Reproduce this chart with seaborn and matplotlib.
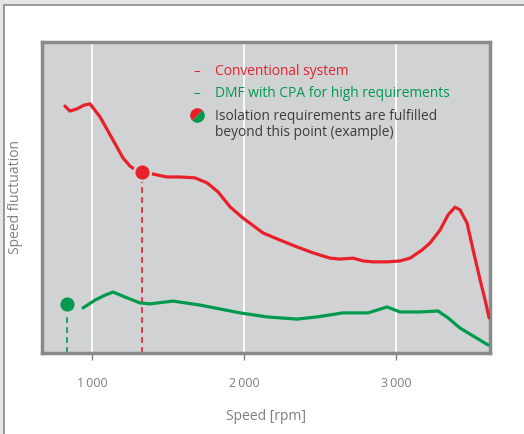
import matplotlib
matplotlib.use("Agg")
import matplotlib.pyplot as plt
import seaborn as sns
import pandas as pd
from matplotlib.patches import Rectangle
from matplotlib.markers import MarkerStyle
from matplotlib.transforms import Affine2D

# curve data (speed in rpm, fluctuation in arbitrary units 0..100)
red_rpm = [822, 855, 901, 947, 987, 1053, 1138, 1204, 1250, 1289, 1329, 1395, 1493, 1579,
           1678, 1757, 1829, 1908, 1993, 2125, 2237, 2349, 2454, 2566, 2632, 2717, 2783,
           2849, 2941, 3026, 3092, 3171, 3224, 3289, 3342, 3388, 3421, 3467, 3507, 3553,
           3586, 3612]
red_val = [79.4, 77.8, 78.5, 79.7, 80.1, 75.9, 68.5, 62.7, 60.1, 58.8, 58.2, 57.6, 56.6, 56.6,
           56.3, 54.7, 51.8, 47.0, 43.4, 38.6, 36.3, 34.1, 32.2, 30.5, 30.2, 30.5, 29.6,
           29.3, 29.3, 29.6, 30.5, 33.1, 35.4, 39.5, 44.4, 46.9, 46.0, 41.8, 33.1, 23.5,
           17.0, 11.3]

green_rpm = [941, 1020, 1086, 1138, 1217, 1316, 1382, 1533, 1711, 1974, 2151, 2349, 2480,
             2651, 2816, 2941, 3026, 3158, 3276, 3342, 3421, 3520, 3605]
green_val = [14.5, 17.0, 18.6, 19.6, 18.0, 16.1, 15.8, 16.7, 15.4, 12.9, 11.6, 10.9, 11.6,
             12.9, 12.9, 14.8, 13.2, 13.2, 13.5, 11.3, 8.0, 5.1, 2.6]

# points beyond which isolation requirements are fulfilled
red_point = (1329, 58.2)
green_point = (836, 15.8)

xticks = [1000, 2000, 3000]
xtick_labels = ["1\u2009000", "2\u2009000", "3\u2009000"]

legend_labels = ["Conventional system", "DMF with CPA for high requirements",
                 "Isolation requirements are fulfilled\nbeyond this point (example)"]

RED = "#e8202a"
GREEN = "#009a4e"
BG = "#d1d2d4"
TXT = "#3c3c3c"
TICK = "#7f7f7f"

sns.set_style("white", {"axes.facecolor": BG})
plt.rcParams["font.family"] = ["Open Sans", "DejaVu Sans"]

fig = plt.figure(figsize=(5.24, 4.34), dpi=100, facecolor="#e5e5e5")
# white card with a grey border
fig.patches.append(Rectangle((3.5, -10), 600, 434 - 4.5 + 10, transform=None,
                             facecolor="white", edgecolor="#8a8a8a", linewidth=1.2, zorder=-5))

ax = fig.add_axes([42 / 524, 81 / 434, 448 / 524, 311 / 434])
ax.set_zorder(1)
ax.set_facecolor(BG)

df_red = pd.DataFrame({"rpm": red_rpm, "val": red_val})
df_green = pd.DataFrame({"rpm": green_rpm, "val": green_val})
line_kw = dict(linewidth=2.3, solid_joinstyle="round", solid_capstyle="round", zorder=3)
sns.lineplot(data=df_red, x="rpm", y="val", color=RED, ax=ax, **line_kw)
sns.lineplot(data=df_green, x="rpm", y="val", color=GREEN, ax=ax, **line_kw)

# dashed drop lines and markers
for (px, py), c in [(red_point, RED), (green_point, GREEN)]:
    ax.vlines(px, 0, py, colors=c, linestyles=(0, (3.5, 2.5)), linewidth=1.2, zorder=2)
    ax.plot([px], [py], "o", color=c, markersize=12, markeredgecolor=BG,
            markeredgewidth=1.8, zorder=4)

ax.set_xlim(671, 3618)
ax.set_ylim(0, 100)
ax.set_xticks(xticks)
ax.set_xticklabels(xtick_labels)
ax.set_yticks([])
ax.grid(axis="x", color="white", linewidth=1.3)
ax.set_axisbelow(True)
ax.tick_params(axis="x", direction="out", length=5, width=1, color=TICK, pad=12,
               labelsize=9, labelcolor=TICK, bottom=True)
for s in ax.spines.values():
    s.set_visible(True)
    s.set_color("#8a8a8a")
    s.set_linewidth(2.5)

ax.set_xlabel("Speed [rpm]", fontsize=10, color=TICK, labelpad=14)
ax.set_ylabel("Speed fluctuation", fontsize=10, color=TICK, labelpad=14)

# legend drawn as text
fs = 9.9
ax.text(0.346, 0.905, "\u2013", color=RED, fontsize=fs, ha="center", va="center",
        transform=ax.transAxes)
ax.text(0.386, 0.905, legend_labels[0], color=RED, fontsize=fs, va="center",
        transform=ax.transAxes)
ax.text(0.346, 0.834, "\u2013", color=GREEN, fontsize=fs, ha="center", va="center",
        transform=ax.transAxes)
ax.text(0.386, 0.834, legend_labels[1], color=GREEN, fontsize=fs, va="center",
        transform=ax.transAxes)
split = MarkerStyle("o", fillstyle="left", transform=Affine2D().rotate_deg(-45))
ax.plot([0.346], [0.765], marker=split, markersize=10.5, color=RED, markerfacecoloralt=GREEN,
        markeredgewidth=0, linestyle="none", transform=ax.transAxes, zorder=5)
ax.text(0.386, 0.736, legend_labels[2], color=TXT, fontsize=fs, va="center",
        linespacing=1.1, transform=ax.transAxes)

fig.savefig("out.png", dpi=100, facecolor=fig.get_facecolor())
